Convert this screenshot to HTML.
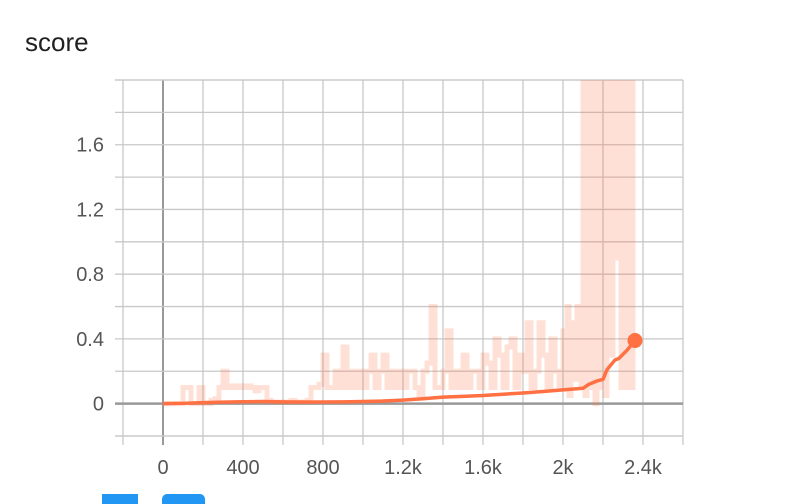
<!DOCTYPE html>
<html><head><meta charset="utf-8"><style>
html,body{margin:0;padding:0;background:#fff;width:790px;height:498px;overflow:hidden}
#title{position:absolute;left:25px;top:27px;font:26px "Liberation Sans",sans-serif;color:#212121}
svg{position:absolute;left:0;top:0}
text{font-family:"Liberation Sans",sans-serif;font-size:20px;fill:#555}
.btn{position:absolute;top:494px;height:10px;background:#2196f3;border-radius:5px 5px 0 0}
</style></head><body>
<div id="title">score</div>
<svg id="chart" width="790" height="498"></svg>
<div class="btn" style="left:102px;width:36px;border-radius:0"></div>
<div class="btn" style="left:162px;width:43px"></div>
<script>
const xTicks=[0,400,800,1200,1600,2000,2400];
const xTickLabels=["0","400","800","1.2k","1.6k","2k","2.4k"];
const yTicks=[0,0.4,0.8,1.2,1.6];
const yTickLabels=["0","0.4","0.8","1.2","1.6"];
const rawSteps=[0,20,40,60,80,100,120,140,160,180,200,220,240,260,280,300,320,340,360,380,400,420,440,460,480,500,520,540,560,580,600,620,640,660,680,700,720,740,760,780,800,820,840,860,880,900,920,940,960,980,1000,1020,1040,1060,1080,1100,1120,1140,1160,1180,1200,1220,1240,1260,1280,1300,1320,1340,1360,1380,1400,1420,1440,1460,1480,1500,1520,1540,1560,1580,1600,1620,1640,1660,1680,1700,1720,1740,1760,1780,1800,1820,1840,1860,1880,1900,1920,1940,1960,1980,2000,2010,2020,2030,2040,2050,2060,2070,2080,2090,2100,2110,2120,2130,2140,2150,2160,2170,2180,2190,2200,2210,2220,2230,2240,2250,2260,2270,2280,2290,2300,2310,2320,2330,2340,2350];
const rawValues=[0,0,0,0,0,0.1,0.1,0,0,0.1,0,0,0.02,0.03,0.1,0.2,0.1,0.11,0.1,0.11,0.1,0.11,0.1,0.08,0.1,0.1,0.02,0.01,0.01,0.01,0.01,0.01,0.02,0.01,0.01,0.01,0.02,0.1,0.1,0.12,0.3,0.1,0.1,0.2,0.1,0.35,0.1,0.2,0.1,0.2,0.1,0.2,0.3,0.1,0.2,0.3,0.1,0.2,0.1,0.2,0.1,0.2,0.2,0.1,0.05,0.2,0.25,0.6,0.1,0.1,0.2,0.45,0.1,0.2,0.1,0.3,0.1,0.2,0.2,0.1,0.3,0.25,0.1,0.4,0.3,0.1,0.35,0.4,0.1,0.3,0.2,0.5,0.1,0.2,0.5,0.3,0.1,0.4,0.2,0.1,0.45,0.1,0.6,0.05,0.5,0.3,0.15,0.6,0.3,0.1,2.5,0.05,2.5,2.5,0.1,2.5,0.0,2.5,2.5,0.1,2.5,0.05,2.5,2.5,0.3,2.5,2.5,0.9,2.5,0.1,2.5,2.5,0.1,2.5,0.1,2.5];
const smoothSteps=[0,100,200,300,400,500,600,700,800,900,1000,1100,1200,1300,1400,1500,1600,1700,1800,1900,2000,2100,2130,2170,2200,2220,2260,2280,2320,2340,2360];
const smoothValues=[0,0.002,0.006,0.009,0.012,0.013,0.011,0.01,0.01,0.011,0.013,0.016,0.022,0.03,0.04,0.045,0.05,0.058,0.066,0.075,0.085,0.095,0.12,0.14,0.15,0.21,0.27,0.28,0.33,0.36,0.39];
const X0=123,X1=683,Y0=80,Y1=436,xmin=-200,xmax=2600,ymin=-0.2,ymax=2.0;
const sx=v=>X0+(v-xmin)/(xmax-xmin)*(X1-X0);
const sy=v=>Y1-(v-ymin)/(ymax-ymin)*(Y1-Y0);
const svg=document.getElementById('chart');const NS='http://www.w3.org/2000/svg';
function mk(t,a){const e=document.createElementNS(NS,t);for(const k in a)e.setAttribute(k,a[k]);svg.appendChild(e);return e;}
for(let v=-200;v<=2600;v+=200){const l=mk('line',{x1:sx(v),x2:sx(v),y1:Y0,y2:Y1+9,stroke:v===0?'#999':'#c8c8c8','stroke-width':v===0?2:1.3});

}
for(let i=-1;i<=10;i++){const v=i*0.2;const l=mk('line',{x1:X0-8,x2:X1,y1:sy(v),y2:sy(v),stroke:i===0?'#999':'#c8c8c8','stroke-width':i===0?2.5:1.3});

}
const tb=mk('line',{x1:115,x2:X1,y1:Y0,y2:Y0,stroke:'#c8c8c8','stroke-width':1.3});


const bb=mk('line',{x1:X0-8,x2:X1,y1:Y1,y2:Y1,stroke:'#c8c8c8','stroke-width':1.3});


xTicks.forEach((v,i)=>{const t=mk('text',{x:sx(v),y:474,'text-anchor':'middle'});t.textContent=xTickLabels[i];

});
yTicks.forEach((v,i)=>{const t=mk('text',{x:104,y:sy(v)+7,'text-anchor':'end'});t.textContent=yTickLabels[i];

});
const cp=mk('clipPath',{id:'c'});const r=document.createElementNS(NS,'rect');r.setAttribute('x',X0);r.setAttribute('y',Y0);r.setAttribute('width',X1-X0);r.setAttribute('height',Y1-Y0);cp.appendChild(r);
let d='';rawSteps.forEach((s,i)=>{const y=sy(rawValues[i]);const nx=i<rawSteps.length-1?rawSteps[i+1]:s+10;d+=(i?'L':'M')+sx(s)+','+y+'L'+sx(nx)+','+y;});
const raw=mk('path',{d:d,fill:'none',stroke:'#ff7043','stroke-opacity':0.22,'stroke-width':5,'clip-path':'url(#c)'});


let d2='';smoothSteps.forEach((s,i)=>{d2+=(i?'L':'M')+sx(s)+','+sy(smoothValues[i]);});
const sm=mk('path',{d:d2,fill:'none',stroke:'#ff7043','stroke-width':3.5,'stroke-linejoin':'round'});


const n=smoothSteps.length-1;
const dot=mk('circle',{cx:sx(smoothSteps[n]),cy:sy(smoothValues[n]),r:7.5,fill:'#ff7043'});


</script>
</body></html>
